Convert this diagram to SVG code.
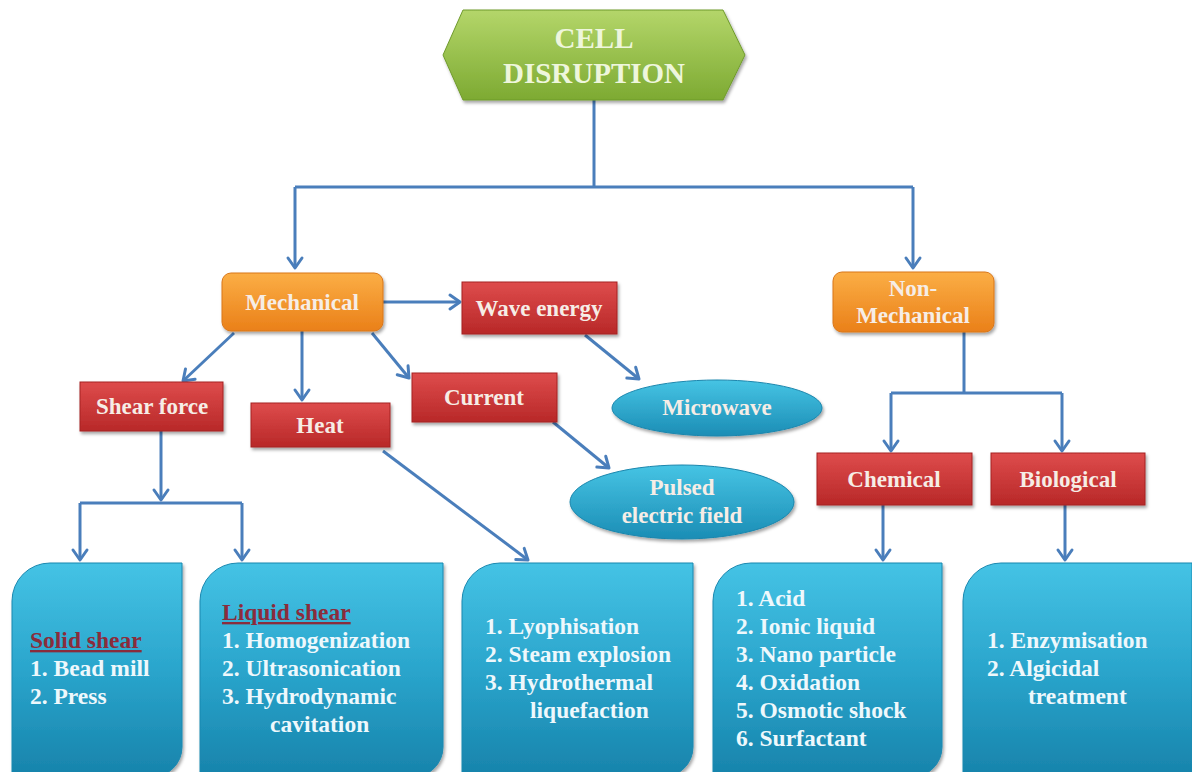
<svg xmlns="http://www.w3.org/2000/svg" width="1192" height="772" viewBox="0 0 1192 772">
<defs>
<linearGradient id="gGreen" x1="0" y1="0" x2="0" y2="1"><stop offset="0" stop-color="#b4d66a"/><stop offset="1" stop-color="#7daa32"/></linearGradient>
<linearGradient id="gOrange" x1="0" y1="0" x2="0" y2="1"><stop offset="0" stop-color="#fbae45"/><stop offset="1" stop-color="#ea8019"/></linearGradient>
<linearGradient id="gRed" x1="0" y1="0" x2="0" y2="1"><stop offset="0" stop-color="#de4c4c"/><stop offset="1" stop-color="#b82828"/></linearGradient>
<linearGradient id="gCyan" x1="0" y1="0" x2="0" y2="1"><stop offset="0" stop-color="#46c4e4"/><stop offset="1" stop-color="#1b8db5"/></linearGradient>
<linearGradient id="gBox" x1="0" y1="0" x2="0" y2="1"><stop offset="0" stop-color="#45c3e5"/><stop offset="0.5" stop-color="#2aa5cc"/><stop offset="1" stop-color="#1783ab"/></linearGradient>
<filter id="sh" x="-10%" y="-10%" width="125%" height="135%"><feDropShadow dx="1.5" dy="2.5" stdDeviation="1.8" flood-color="#000" flood-opacity="0.35"/></filter>
<marker id="ah" markerUnits="userSpaceOnUse" markerWidth="20" markerHeight="20" viewBox="-12 -10 14 20" refX="0" refY="0" orient="auto">
<path d="M -10,-7 L 0,0 L -10,7" fill="none" stroke="#4a7ebb" stroke-width="3" stroke-linecap="round" stroke-linejoin="round"/>
</marker>
<style>
.lbl{font-family:"Liberation Serif","Times New Roman",serif;font-weight:bold;font-size:23px;text-anchor:middle;fill:#f6ede6}
.ttl{font-family:"Liberation Serif","Times New Roman",serif;font-weight:bold;font-size:29px;text-anchor:middle;fill:#eef6dc}
.lst{font-family:"Liberation Serif","Times New Roman",serif;font-weight:bold;font-size:23.5px;fill:#eef8fc}
.hd{fill:#8a2c3c;text-decoration:underline}
.con{fill:none;stroke:#4a7ebb;stroke-width:3}
.arr{marker-end:url(#ah)}
.red{fill:url(#gRed);stroke:#a52222;stroke-width:1}
.org{fill:url(#gOrange);stroke:#d9761a;stroke-width:1}
.cyan{fill:url(#gCyan);stroke:#1a86ad;stroke-width:1}
.box{fill:url(#gBox);stroke:#1a88b0;stroke-width:1}
</style>
</defs>
<rect width="1192" height="772" fill="#ffffff"/>

<g id="connectors">
<path class="con" d="M594,100 V187"/>
<path class="con" d="M295,187 H913"/>
<path class="con arr" d="M295,187 V268"/>
<path class="con arr" d="M913,187 V268"/>
<path class="con arr" d="M383,302 H460"/>
<path class="con arr" d="M234,333 L183,381"/>
<path class="con arr" d="M302,331 V400"/>
<path class="con arr" d="M372,333 L409,378"/>
<path class="con arr" d="M585,335 L639,379"/>
<path class="con arr" d="M553,422 L609,468"/>
<path class="con arr" d="M383,451 L528,560"/>
<path class="con arr" d="M161,431 V500"/>
<path class="con" d="M80,503 H242"/>
<path class="con arr" d="M80,503 V560"/>
<path class="con arr" d="M242,503 V560"/>
<path class="con" d="M964,332 V393"/>
<path class="con" d="M891,393 H1062"/>
<path class="con arr" d="M891,393 V451"/>
<path class="con arr" d="M1062,393 V451"/>
<path class="con arr" d="M883,505 V560"/>
<path class="con arr" d="M1065,505 V560"/>
</g>

<g id="cell-disruption">
<polygon points="443,55 463,10 723,10 745,55 723,100 463,100" fill="url(#gGreen)" stroke="#6f9a2c" stroke-width="1" filter="url(#sh)"/>
<text class="ttl" x="594" y="48">CELL</text>
<text class="ttl" x="594" y="83">DISRUPTION</text>
</g>

<g id="mechanical">
<rect class="org" x="222" y="273" width="161" height="58" rx="9" filter="url(#sh)"/>
<text class="lbl" x="302" y="310">Mechanical</text>
</g>

<g id="non-mechanical">
<rect class="org" x="833" y="272" width="161" height="60" rx="9" filter="url(#sh)"/>
<text class="lbl" x="913" y="296">Non-</text>
<text class="lbl" x="913" y="323">Mechanical</text>
</g>

<g id="wave-energy">
<rect class="red" x="462" y="282" width="155" height="52" filter="url(#sh)"/>
<text class="lbl" x="539" y="316">Wave energy</text>
</g>

<g id="shear-force">
<rect class="red" x="80" y="382" width="143" height="49" filter="url(#sh)"/>
<text class="lbl" x="152" y="414">Shear force</text>
</g>

<g id="heat">
<rect class="red" x="251" y="403" width="139" height="44" filter="url(#sh)"/>
<text class="lbl" x="320" y="433">Heat</text>
</g>

<g id="current">
<rect class="red" x="412" y="373" width="145" height="49" filter="url(#sh)"/>
<text class="lbl" x="484" y="405">Current</text>
</g>

<g id="microwave">
<ellipse class="cyan" cx="717" cy="408" rx="105" ry="28" filter="url(#sh)"/>
<text class="lbl" x="717" y="415">Microwave</text>
</g>

<g id="pulsed-electric-field">
<ellipse class="cyan" cx="682" cy="502" rx="112" ry="37" filter="url(#sh)"/>
<text class="lbl" x="682" y="495">Pulsed</text>
<text class="lbl" x="682" y="523">electric field</text>
</g>

<g id="chemical">
<rect class="red" x="817" y="453" width="155" height="52" filter="url(#sh)"/>
<text class="lbl" x="894" y="487">Chemical</text>
</g>

<g id="biological">
<rect class="red" x="991" y="453" width="154" height="52" filter="url(#sh)"/>
<text class="lbl" x="1068" y="487">Biological</text>
</g>

<g id="solid-shear">
<path class="box" d="M12,601 A38,38 0 0 1 50,563 L182,563 L182,747 A30,30 0 0 1 152,777 L12,777 Z" filter="url(#sh)"/>
<text class="lst hd" x="30" y="648">Solid shear</text>
<text class="lst" x="30" y="676">1. Bead mill</text>
<text class="lst" x="30" y="704">2. Press</text>
</g>

<g id="liquid-shear">
<path class="box" d="M200,601 A38,38 0 0 1 238,563 L443,563 L443,747 A30,30 0 0 1 413,777 L200,777 Z" filter="url(#sh)"/>
<text class="lst hd" x="222" y="620">Liquid shear</text>
<text class="lst" x="222" y="648">1. Homogenization</text>
<text class="lst" x="222" y="676">2. Ultrasonication</text>
<text class="lst" x="222" y="704">3. Hydrodynamic</text>
<text class="lst" x="270" y="732">cavitation</text>
</g>

<g id="heat-methods">
<path class="box" d="M462,601 A38,38 0 0 1 500,563 L693,563 L693,747 A30,30 0 0 1 663,777 L462,777 Z" filter="url(#sh)"/>
<text class="lst" x="485" y="634">1. Lyophisation</text>
<text class="lst" x="485" y="662">2. Steam explosion</text>
<text class="lst" x="485" y="690">3. Hydrothermal</text>
<text class="lst" x="530" y="718">liquefaction</text>
</g>

<g id="chemical-methods">
<path class="box" d="M713,601 A38,38 0 0 1 751,563 L942,563 L942,747 A30,30 0 0 1 912,777 L713,777 Z" filter="url(#sh)"/>
<text class="lst" x="736" y="606">1. Acid</text>
<text class="lst" x="736" y="634">2. Ionic liquid</text>
<text class="lst" x="736" y="662">3. Nano particle</text>
<text class="lst" x="736" y="690">4. Oxidation</text>
<text class="lst" x="736" y="718">5. Osmotic shock</text>
<text class="lst" x="736" y="746">6. Surfactant</text>
</g>

<g id="biological-methods">
<path class="box" d="M963,601 A38,38 0 0 1 1001,563 L1192,563 L1192,777 L963,777 Z" filter="url(#sh)"/>
<text class="lst" x="987" y="648">1. Enzymisation</text>
<text class="lst" x="987" y="676">2. Algicidal</text>
<text class="lst" x="1028" y="704">treatment</text>
</g>
</svg>
